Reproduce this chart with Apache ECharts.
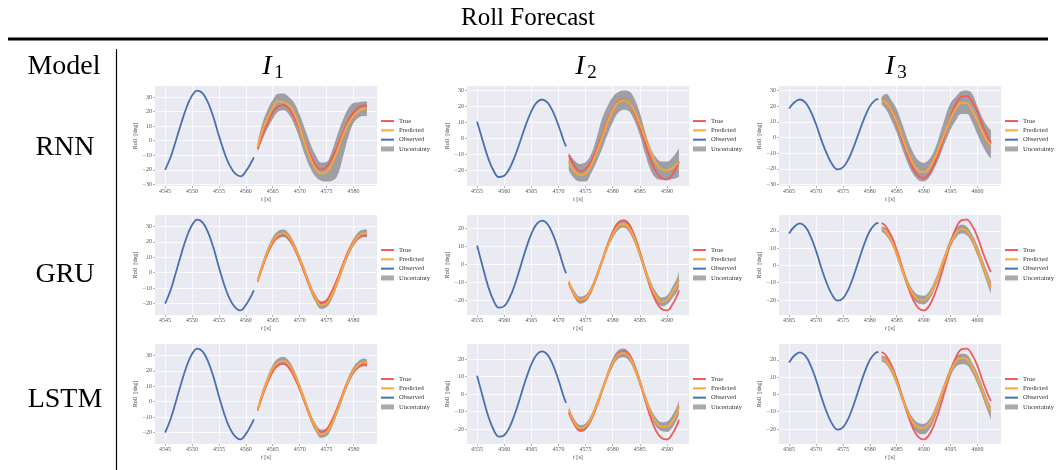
<!DOCTYPE html>
<html>
<head>
<meta charset="utf-8">
<title>Roll Forecast</title>
<script src="https://cdn.jsdelivr.net/npm/echarts@6/dist/echarts.min.js"></script>
<style>
  html, body { margin: 0; padding: 0; background: #ffffff; }
  #chart { width: 1056px; height: 470px; }
</style>
</head>
<body>
<div id="chart"></div>
<script>
// ---------- data: roll angle [deg] over time [s] ----------
const models = ['RNN', 'GRU', 'LSTM'];
const intervals = ['I1', 'I2', 'I3'];
const intervalSubscripts = ['1', '2', '3'];
const legendNames = ['True', 'Predicted', 'Observed', 'Uncertainty'];

// interval I1
const obsTime_I1 = [4545, 4546, 4547, 4548, 4549, 4550, 4551, 4552, 4553, 4554, 4555, 4556, 4557, 4558, 4559, 4560, 4561, 4561.5];
const obsRoll_I1 = [-20, -11.5, 0, 12, 23, 31, 34.5, 32.5, 26, 16, 3.5, -8, -17, -22.5, -24.5, -21, -15, -11.5];
const fcTime_I1 = [4562.2, 4563, 4564, 4565, 4566, 4567, 4568, 4569, 4570, 4571, 4572, 4573, 4574, 4575, 4576, 4577, 4578, 4579, 4580, 4581, 4582, 4582.5];
const trueRoll_I1 = [-5.5, 3, 12, 19.5, 23.5, 24.5, 22, 16, 8, -1, -10, -17, -19.7, -18, -12, -4, 5, 13.5, 19.5, 23, 24.3, 24];
const pred_RNN_I1 = [-4.5, 6, 15, 22.5, 27, 26.5, 24.5, 19, 9, -2, -12, -19.5, -22.5, -21.5, -16, -7, 3, 11.5, 17, 20.5, 22, 22.3];
const upper_RNN_I1 = [-1, 11, 21, 28, 32.3, 32.5, 30, 26, 18, 8, -2, -10, -15, -14.5, -7, 4, 14, 22, 26, 26.5, 27, 27];
const lower_RNN_I1 = [-8, 0, 8, 15, 20, 21, 18, 11, 1, -10, -19, -25, -27.5, -28, -27.5, -24, -12, 2, 12, 16, 17, 17];
const pred_GRU_I1 = [-5, 3.5, 13, 20.5, 24.5, 25.5, 23, 17, 9, 0, -9.5, -17, -21, -20, -14.5, -6, 3.5, 12.5, 19.5, 24, 25.5, 25.5];
const upper_GRU_I1 = [-3, 6, 15.5, 23, 27, 28, 25.5, 19.5, 11.5, 2.5, -7, -14.5, -18.5, -17.5, -12, -3.5, 6, 15, 22, 26.5, 28, 28];
const lower_GRU_I1 = [-7, 1, 10.5, 18, 22, 23, 20.5, 14.5, 6.5, -2.5, -12, -19.5, -23.5, -22.5, -17, -8.5, 1, 10, 17, 21.5, 23, 23];
const pred_LSTM_I1 = [-5, 4, 13.5, 21.5, 25.5, 26.5, 24, 18, 9.5, 0, -9.5, -17, -21, -20, -14, -5.5, 4, 13, 20, 24, 25.5, 25];
const upper_LSTM_I1 = [-3, 6.5, 16, 24, 28, 29, 26.5, 20.5, 12, 2.5, -7, -14.5, -18, -17.5, -11.5, -3, 6.5, 15.5, 22.5, 26.5, 28, 27.5];
const lower_LSTM_I1 = [-7, 1.5, 11, 19, 23, 24, 21.5, 15.5, 7, -2.5, -12, -19.5, -23.5, -22.5, -16.5, -8, 1.5, 10.5, 17.5, 21.5, 23, 22.5];

// interval I2
const obsTime_I2 = [4555, 4556, 4557, 4558, 4559, 4560, 4561, 4562, 4563, 4564, 4565, 4566, 4567, 4568, 4569, 4570, 4571, 4571.4];
const obsRoll_I2 = [10.5, -1, -12, -20, -24.2, -23.4, -18.7, -10.9, -1.3, 8.6, 17, 22.6, 24.4, 22.4, 16.6, 8.1, -1.8, -5];
const fcTime_I2 = [4571.9, 4573, 4574, 4575, 4576, 4577, 4578, 4579, 4580, 4581, 4582, 4583, 4584, 4585, 4586, 4587, 4588, 4589, 4590, 4591, 4592, 4592.2];
const trueRoll_I2 = [-10.5, -17.5, -20.5, -19.3, -14.7, -7.3, 1.5, 10.5, 18, 23, 24.5, 22.5, 16, 7, -3.5, -13.5, -21, -25, -25.8, -22.5, -16.5, -14.5];
const pred_RNN_I2 = [-14.5, -21, -23, -22, -17, -9, 0, 9.5, 17.5, 22.5, 24, 22.5, 17, 9, 0, -8.5, -15.5, -19.5, -20, -18.5, -15.5, -15];
const upper_RNN_I2 = [-9, -14, -16, -15, -10, 0, 12, 20, 26, 29, 30, 29.5, 25, 16, 4, -6, -12, -14.5, -14.5, -12, -7.5, -5.5];
const lower_RNN_I2 = [-20, -25.5, -27, -27, -22, -15, -7, 2, 10, 16, 18, 17, 11, 2, -10, -20, -25, -26, -26, -25.5, -24.5, -24];
const pred_GRU_I2 = [-10, -17, -20, -19, -14.5, -7, 1.5, 10, 17, 21.5, 22.5, 20.5, 14.5, 6, -3.5, -12, -18, -21, -20, -15.5, -10.5, -8.5];
const upper_GRU_I2 = [-8.5, -15, -18, -17, -12.5, -5, 3.5, 12, 19.5, 24, 25, 23, 17, 8.5, -1, -9.5, -15.5, -18.5, -17.5, -12.5, -6.5, -3.5];
const lower_GRU_I2 = [-11.5, -19, -22, -21, -16.5, -9, -0.5, 8, 14.5, 19, 20.5, 18, 12, 3.5, -6, -14.5, -20.5, -23.5, -22.5, -19, -14.5, -12.5];
const pred_LSTM_I2 = [-9, -16.5, -19.5, -18.5, -14, -6.5, 2, 10.5, 18, 22.5, 23.5, 21.5, 15.5, 7, -2.5, -10.5, -16, -18.5, -18.5, -15.5, -9.5, -7];
const upper_LSTM_I2 = [-7, -14.5, -17.5, -16.5, -12, -4.5, 4, 12.5, 20.5, 25, 26, 24, 18, 9.5, 0, -8, -13.5, -16, -15.5, -12, -5.5, -3];
const lower_LSTM_I2 = [-11, -18.5, -21.5, -20.5, -16, -8.5, 0, 8.5, 15.5, 20, 21, 19, 13, 4.5, -5, -13, -18.5, -21, -21.5, -19, -13.5, -11.5];

// interval I3
const obsTime_I3 = [4565, 4566, 4567, 4568, 4569, 4570, 4571, 4572, 4573, 4574, 4575, 4576, 4577, 4578, 4579, 4580, 4581, 4581.6];
const obsRoll_I3 = [18.5, 22.5, 24.3, 22.4, 16.8, 8.5, -1.5, -10.3, -17, -20.3, -19, -14, -6, 3.4, 12.6, 19.9, 23.9, 24.5];
const fcTime_I3 = [4582.2, 4583, 4584, 4585, 4586, 4587, 4588, 4589, 4590, 4591, 4592, 4593, 4594, 4595, 4596, 4597, 4598, 4599, 4600, 4601, 4602, 4602.5];
const trueRoll_I3 = [24.5, 22.5, 17, 9, -1, -11, -19.5, -24.5, -26, -23.5, -17, -8, 2.5, 13, 21.5, 26, 26.5, 23, 16.5, 7.5, -0.5, -3.8];
const pred_RNN_I3 = [24, 22.5, 17.5, 10, 0.5, -9, -16.5, -21, -22, -19.5, -13.5, -5.5, 3.5, 12, 18.5, 22.3, 22, 17.5, 10.5, 3, -3, -4.5];
const upper_RNN_I3 = [26, 28, 24, 18, 9, -1, -9, -14.5, -16, -14, -8, 2, 13, 22, 26, 29.5, 30, 28, 20, 12, 6.5, 5];
const lower_RNN_I3 = [21, 18, 11, 3, -7, -16, -23, -27, -28, -25.5, -19.5, -12, -3, 5, 11, 15, 15, 10, 2, -5.5, -11.5, -13.5];
const pred_GRU_I3 = [21, 19.5, 14.5, 7, -2, -10.5, -16.5, -19.5, -20, -17.5, -11.5, -3.5, 5, 13, 18.5, 21, 20, 15.5, 8.5, 0, -8.5, -12.5];
const upper_GRU_I3 = [22.5, 21.5, 16.5, 9.5, 0.5, -8, -14, -17, -17.5, -15, -9, -1, 7.5, 15.5, 21, 23.5, 22.5, 18, 11.5, 3, -5, -9];
const lower_GRU_I3 = [19.5, 17.5, 12.5, 4.5, -4.5, -13, -19, -22, -22.5, -20, -14, -6, 2.5, 10.5, 16, 18.5, 17.5, 13, 5.5, -3, -12, -16.5];
const pred_LSTM_I3 = [20.5, 19.5, 15, 7.5, -1.5, -10, -16, -19, -19.5, -17, -11, -3, 5.5, 13.5, 19, 21, 20.5, 16, 9.5, 1.5, -6.5, -10];
const upper_LSTM_I3 = [22.5, 21.5, 17, 10, 1, -7.5, -13.5, -16.5, -17, -14.5, -8.5, -0.5, 8, 16, 21.5, 23.5, 23, 18.5, 12.5, 4.5, -3.5, -7];
const lower_LSTM_I3 = [19, 17.5, 12.5, 5, -4, -12.5, -19, -22.5, -23, -20.5, -14.5, -6, 2.5, 10.5, 16, 17.5, 17, 12.5, 6, -2, -10.5, -14.5];

// tick values
const xTicks_I1 = [4545, 4550, 4555, 4560, 4565, 4570, 4575, 4580];
const xTicks_I2 = [4555, 4560, 4565, 4570, 4575, 4580, 4585, 4590];
const xTicks_I3 = [4565, 4570, 4575, 4580, 4585, 4590, 4595, 4600];
const yTicksWide = [-30, -20, -10, 0, 10, 20, 30];
const yTicksUpper = [-20, -10, 0, 10, 20, 30];
const yTicksNarrow = [-20, -10, 0, 10, 20];

// ---------- assembly ----------
const columns = {
  I1: { obsTime: obsTime_I1, obsRoll: obsRoll_I1, fcTime: fcTime_I1, trueRoll: trueRoll_I1, xTicks: xTicks_I1 },
  I2: { obsTime: obsTime_I2, obsRoll: obsRoll_I2, fcTime: fcTime_I2, trueRoll: trueRoll_I2, xTicks: xTicks_I2 },
  I3: { obsTime: obsTime_I3, obsRoll: obsRoll_I3, fcTime: fcTime_I3, trueRoll: trueRoll_I3, xTicks: xTicks_I3 }
};
const forecasts = {
  RNN:  { I1: [pred_RNN_I1, upper_RNN_I1, lower_RNN_I1],  I2: [pred_RNN_I2, upper_RNN_I2, lower_RNN_I2],  I3: [pred_RNN_I3, upper_RNN_I3, lower_RNN_I3] },
  GRU:  { I1: [pred_GRU_I1, upper_GRU_I1, lower_GRU_I1],  I2: [pred_GRU_I2, upper_GRU_I2, lower_GRU_I2],  I3: [pred_GRU_I3, upper_GRU_I3, lower_GRU_I3] },
  LSTM: { I1: [pred_LSTM_I1, upper_LSTM_I1, lower_LSTM_I1], I2: [pred_LSTM_I2, upper_LSTM_I2, lower_LSTM_I2], I3: [pred_LSTM_I3, upper_LSTM_I3, lower_LSTM_I3] }
};
const yTicks = {
  RNN:  { I1: yTicksWide,  I2: yTicksWide,   I3: yTicksWide },
  GRU:  { I1: yTicksUpper, I2: yTicksNarrow, I3: yTicksNarrow },
  LSTM: { I1: yTicksUpper, I2: yTicksNarrow, I3: yTicksNarrow }
};

// ---------- styling ----------
const SERIF = '"Liberation Serif", "DejaVu Serif", serif';
const RED = '#f25a5a';
const ORANGE = '#ffa532';
const BLUE = '#4a6fb0';
const BAND = '#9f9fa3';
const BAND_LEGEND = '#a9a9a9';
const PANEL_BG = '#eaeaf2';
const LINE_ICON = 'path://M0,0H13V2H0Z';

const colLeft = [155, 467, 779];
const rowTop = [86, 215, 344];
const plotW = 222;
const plotH = 100;

const zip = (xs, ys) => xs.map((x, i) => [x, ys[i]]);
// value first, time second: stacking then runs on the roll dimension
const zipValueFirst = (xs, ys) => xs.map((x, i) => [ys[i], x]);
const padMin = v => v.min - 0.05 * (v.max - v.min);
const padMax = v => v.max + 0.05 * (v.max - v.min);
const minusSign = v => (v < 0 ? '\u2212' + Math.abs(v) : String(v));

const grids = [], xAxes = [], yAxes = [], series = [], legends = [];

models.forEach((model, r) => {
  intervals.forEach((key, c) => {
    const k = grids.length;
    const col = columns[key];
    const [pred, upper, lower] = forecasts[model][key];

    grids.push({
      left: colLeft[c], top: rowTop[r], width: plotW, height: plotH,
      show: true, backgroundColor: PANEL_BG, borderWidth: 0
    });

    xAxes.push({
      gridIndex: k, type: 'value', scale: true, min: padMin, max: padMax,
      axisLine: { show: false, onZero: false },
      axisTick: { show: true, length: 2, lineStyle: { color: '#777', width: 0.6 }, customValues: col.xTicks },
      axisLabel: { customValues: col.xTicks, fontSize: 6, color: '#555', margin: 2.5, fontFamily: SERIF, formatter: v => String(v) },
      splitLine: { show: true, lineStyle: { color: '#ffffff', width: 0.8 } },
      name: '{i|t} [s]', nameLocation: 'middle', nameGap: 10,
      nameTextStyle: { fontSize: 6.2, color: '#444', fontFamily: SERIF,
        rich: { i: { fontSize: 6.2, fontStyle: 'italic', color: '#444', fontFamily: SERIF } } }
    });

    const yt = yTicks[model][key];
    yAxes.push({
      gridIndex: k, type: 'value', scale: true, min: padMin, max: padMax,
      axisLine: { show: false, onZero: false },
      axisTick: { show: true, length: 2, lineStyle: { color: '#777', width: 0.6 }, customValues: yt },
      axisLabel: { customValues: yt, fontSize: 6, color: '#555', margin: 3, fontFamily: SERIF, formatter: minusSign },
      splitLine: { show: true, lineStyle: { color: '#ffffff', width: 0.8 } },
      name: 'Roll  [deg]', nameLocation: 'middle', nameGap: 15, nameRotate: 90,
      nameTextStyle: { fontSize: 6.2, color: '#444', fontFamily: SERIF }
    });

    const common = { type: 'line', xAxisIndex: k, yAxisIndex: k, symbol: 'none', smooth: 0.4, silent: true };
    const bandCommon = Object.assign({}, common, {
      stack: 'band' + k, stackStrategy: 'all', encode: { x: 1, y: 0 }, lineStyle: { opacity: 0 }, z: 1
    });

    // uncertainty band: lower bound as the stacking base, band height stacked on top of it
    series.push(Object.assign({}, bandCommon, {
      name: 'band-base', data: zipValueFirst(col.fcTime, lower)
    }));
    series.push(Object.assign({}, bandCommon, {
      name: 'Uncertainty', data: zipValueFirst(col.fcTime, upper.map((u, i) => u - lower[i])),
      itemStyle: { color: BAND }, areaStyle: { color: BAND, opacity: 1 }
    }));
    series.push(Object.assign({}, common, {
      name: 'Observed', data: zip(col.obsTime, col.obsRoll),
      itemStyle: { color: BLUE }, lineStyle: { color: BLUE, width: 1.8 }, z: 3
    }));
    series.push(Object.assign({}, common, {
      name: 'True', data: zip(col.fcTime, col.trueRoll),
      itemStyle: { color: RED }, lineStyle: { color: RED, width: 1.8 }, z: 4
    }));
    series.push(Object.assign({}, common, {
      name: 'Predicted', data: zip(col.fcTime, pred),
      itemStyle: { color: ORANGE }, lineStyle: { color: ORANGE, width: 1.8 }, z: 5
    }));

    legends.push({
      orient: 'vertical', left: colLeft[c] + plotW + 4, top: rowTop[r] + 30.4,
      itemWidth: 13, itemHeight: 5, itemGap: 0, padding: 0, selectedMode: false,
      textStyle: { fontSize: 6.6, lineHeight: 9.3, color: '#333', fontFamily: SERIF },
      data: [
        { name: legendNames[0], icon: LINE_ICON, itemStyle: { color: RED, borderWidth: 0 } },
        { name: legendNames[1], icon: LINE_ICON, itemStyle: { color: ORANGE, borderWidth: 0 } },
        { name: legendNames[2], icon: LINE_ICON, itemStyle: { color: BLUE, borderWidth: 0 } },
        { name: legendNames[3], icon: 'rect', itemStyle: { color: BAND_LEGEND, borderWidth: 0 } }
      ]
    });
  });
});

// table frame, headings and row labels
const headerCenters = [267, 580, 890];
const rowCenters = [148, 275, 400];
const graphic = [
  { type: 'text', x: 528, y: 18, style: { text: 'Roll Forecast', font: '25px ' + SERIF, fill: '#000', textAlign: 'center', textVerticalAlign: 'middle' } },
  { type: 'line', shape: { x1: 8, y1: 39, x2: 1048, y2: 39 }, style: { stroke: '#000', lineWidth: 3 } },
  { type: 'line', shape: { x1: 116.5, y1: 49, x2: 116.5, y2: 470 }, style: { stroke: '#000', lineWidth: 1.2 } },
  { type: 'text', x: 64, y: 67, style: { text: 'Model', font: '28px ' + SERIF, fill: '#000', textAlign: 'center', textVerticalAlign: 'middle' } }
];
intervalSubscripts.forEach((sub, c) => {
  graphic.push({ type: 'text', x: headerCenters[c], y: 67, style: { text: 'I', font: 'italic 28px ' + SERIF, fill: '#000', textAlign: 'center', textVerticalAlign: 'middle' } });
  graphic.push({ type: 'text', x: headerCenters[c] + 12, y: 73, style: { text: sub, font: '19px ' + SERIF, fill: '#000', textAlign: 'center', textVerticalAlign: 'middle' } });
});
models.forEach((model, r) => {
  graphic.push({ type: 'text', x: 65, y: rowCenters[r], style: { text: model, font: '28px ' + SERIF, fill: '#000', textAlign: 'center', textVerticalAlign: 'middle' } });
});

const chart = echarts.init(document.getElementById('chart'), null, { renderer: 'canvas' });
chart.setOption({
  animation: false,
  backgroundColor: '#ffffff',
  grid: grids,
  xAxis: xAxes,
  yAxis: yAxes,
  legend: legends,
  series: series,
  graphic: graphic
});
</script>
</body>
</html>
